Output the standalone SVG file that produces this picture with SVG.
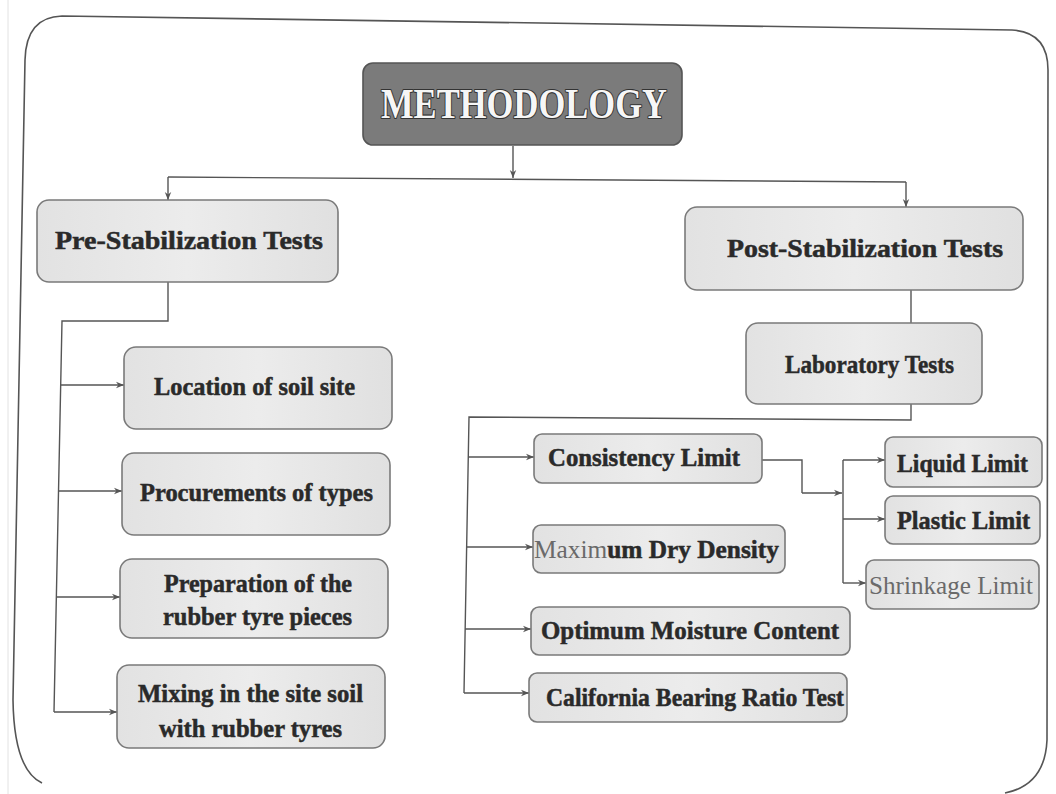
<svg xmlns="http://www.w3.org/2000/svg" width="1056" height="794" viewBox="0 0 1056 794">
<defs>
<marker id="arr" viewBox="0 0 10 10" refX="10" refY="5" markerWidth="8" markerHeight="8" orient="auto-start-reverse" markerUnits="userSpaceOnUse">
<path d="M0,1 L10,5 L0,9 L3,5 Z" fill="#555"/>
</marker>
<linearGradient id="g" x1="0" y1="0" x2="1" y2="0">
<stop offset="0" stop-color="#e2e2e2"/><stop offset="0.5" stop-color="#ececec"/><stop offset="1" stop-color="#e0e0e0"/>
</linearGradient>
</defs>
<style>
.box{fill:url(#g);stroke:#7a7a7a;stroke-width:1.6}
.t{font-family:"Liberation Serif",serif;font-weight:bold;font-size:25px;fill:#2a2a2a;stroke:#2a2a2a;stroke-width:0.5;dominant-baseline:central}
.thin{font-weight:normal;fill:#6a6a6a;stroke:none}
.title{font-family:"Liberation Serif",serif;font-weight:bold;font-size:42px;fill:#f6f6f6;stroke:#333;stroke-width:2.2;paint-order:stroke;stroke-linejoin:round;dominant-baseline:central}
.c{fill:none;stroke:#555;stroke-width:1.4}
.a{marker-end:url(#arr)}
</style>
<rect width="1056" height="794" fill="#ffffff"/>
<path d="M42,783 Q14,770 13,700 L25,60 Q26,17 62,16 L1012,30 Q1048,32 1048,70 L1047,740 Q1045,785 1005,793" fill="none" stroke="#555" stroke-width="1.6"/>
<line x1="8" y1="0" x2="8" y2="794" stroke="#e2e2e2" stroke-width="1"/>

<g id="connectors">
<path class="c a" d="M513,146 L513,178"/>
<path class="c" d="M168,177 L906,182"/>
<path class="c a" d="M168,177 L168,200"/>
<path class="c a" d="M906,182 L906,207"/>
<path class="c" d="M168,282 L168,321 L62,321 L54,712"/>
<path class="c a" d="M61,385 L124,385"/>
<path class="c a" d="M59,491 L122,491"/>
<path class="c a" d="M57,597 L120,597"/>
<path class="c a" d="M54,712 L117,712"/>
<path class="c" d="M911,290 L911,323"/>
<path class="c" d="M911,404 L911,420 L469,417 L464,693"/>
<path class="c a" d="M468,457 L534,457"/>
<path class="c a" d="M467,547 L533,547"/>
<path class="c a" d="M465,629 L531,629"/>
<path class="c a" d="M464,693 L529,693"/>
<path class="c" d="M762,460 L802,460 L802,493"/>
<path class="c a" d="M802,493 L842,493"/>
<path class="c" d="M843,460 L843,583"/>
<path class="c a" d="M843,460 L885,460"/>
<path class="c a" d="M843,519 L885,519"/>
<path class="c a" d="M843,583 L866,583"/>
</g>

<g id="methodology">
<rect x="363" y="63" width="319" height="82" rx="10" fill="#7b7b7b" stroke="#555" stroke-width="1.6"/>
<text class="title" x="381" y="104" textLength="286" lengthAdjust="spacingAndGlyphs">METHODOLOGY</text>
</g>

<g id="pre">
<rect class="box" x="37" y="200" width="301" height="82" rx="12"/>
<text class="t" x="55" y="240" textLength="268" lengthAdjust="spacingAndGlyphs">Pre-Stabilization Tests</text>
</g>
<g id="post">
<rect class="box" x="685" y="207" width="338" height="83" rx="12"/>
<text class="t" x="727" y="248" textLength="276" lengthAdjust="spacingAndGlyphs">Post-Stabilization Tests</text>
</g>
<g id="lab">
<rect class="box" x="746" y="323" width="236" height="81" rx="12"/>
<text class="t" x="785" y="364" textLength="169" lengthAdjust="spacingAndGlyphs">Laboratory Tests</text>
</g>

<g id="location">
<rect class="box" x="124" y="347" width="268" height="82" rx="12"/>
<text class="t" x="154" y="386" textLength="201" lengthAdjust="spacingAndGlyphs">Location of soil site</text>
</g>
<g id="procurements">
<rect class="box" x="122" y="453" width="268" height="82" rx="12"/>
<text class="t" x="140" y="492" textLength="233" lengthAdjust="spacingAndGlyphs">Procurements of types</text>
</g>
<g id="preparation">
<rect class="box" x="120" y="559" width="268" height="79" rx="12"/>
<text class="t" x="164" y="583" textLength="188" lengthAdjust="spacingAndGlyphs">Preparation of the</text>
<text class="t" x="163" y="616" textLength="189" lengthAdjust="spacingAndGlyphs">rubber tyre pieces</text>
</g>
<g id="mixing">
<rect class="box" x="117" y="665" width="268" height="83" rx="12"/>
<text class="t" x="138" y="693" textLength="225" lengthAdjust="spacingAndGlyphs">Mixing in the site soil</text>
<text class="t" x="159" y="728" textLength="183" lengthAdjust="spacingAndGlyphs">with rubber tyres</text>
</g>

<g id="consistency">
<rect class="box" x="534" y="434" width="228" height="49" rx="8"/>
<text class="t" x="548" y="457" textLength="192" lengthAdjust="spacingAndGlyphs">Consistency Limit</text>
</g>
<g id="maxdry">
<rect class="box" x="533" y="525" width="252" height="48" rx="8"/>
<text class="t" x="534" y="549" textLength="245" lengthAdjust="spacingAndGlyphs"><tspan class="thin">Maxim</tspan>um Dry Density</text>
</g>
<g id="optimum">
<rect class="box" x="531" y="607" width="319" height="48" rx="8"/>
<text class="t" x="541" y="630" textLength="298" lengthAdjust="spacingAndGlyphs">Optimum Moisture Content</text>
</g>
<g id="cbr">
<rect class="box" x="529" y="673" width="318" height="49" rx="8"/>
<text class="t" x="546" y="697" textLength="298" lengthAdjust="spacingAndGlyphs">California Bearing Ratio Test</text>
</g>

<g id="liquid">
<rect class="box" x="885" y="437" width="157" height="50" rx="8"/>
<text class="t" x="897" y="463" textLength="131" lengthAdjust="spacingAndGlyphs">Liquid Limit</text>
</g>
<g id="plastic">
<rect class="box" x="885" y="496" width="155" height="48" rx="8"/>
<text class="t" x="897" y="520" textLength="133" lengthAdjust="spacingAndGlyphs">Plastic Limit</text>
</g>
<g id="shrinkage">
<rect class="box" x="866" y="560" width="173" height="49" rx="8"/>
<text class="t thin" x="869" y="585" textLength="164" lengthAdjust="spacingAndGlyphs">Shrinkage Limit</text>
</g>
</svg>
